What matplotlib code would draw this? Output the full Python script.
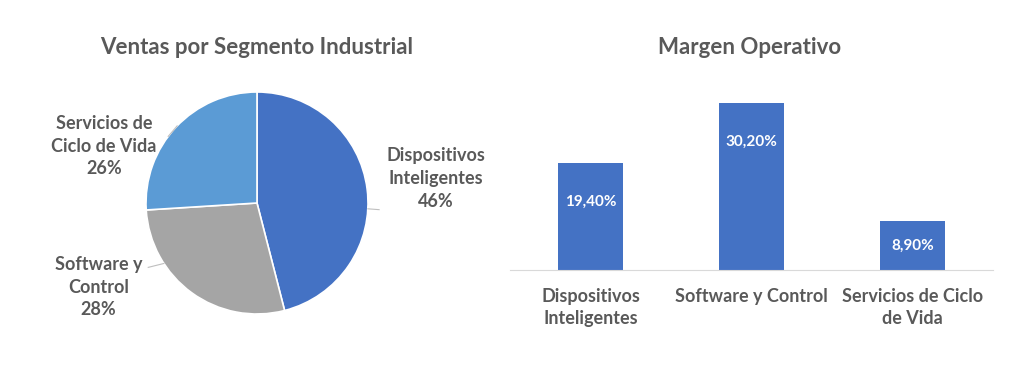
import matplotlib
matplotlib.use('Agg')
import matplotlib.pyplot as plt
import numpy as np

plt.rcParams['font.family'] = ['Lato', 'DejaVu Sans']

# data
segments = ['Dispositivos\nInteligentes', 'Software y\nControl', 'Servicios de\nCiclo de Vida']
sales_share = [46, 28, 26]
pie_colors = ['#4472C4', '#A5A5A5', '#5B9BD5']

bar_labels = ['Dispositivos\nInteligentes', 'Software y Control', 'Servicios de Ciclo\nde Vida']
margin = [19.40, 30.20, 8.90]

grey = '#595959'

fig = plt.figure(figsize=(10.24, 3.82), dpi=100)

# pie chart
ax1 = fig.add_axes([146 / 1024, 68 / 382, 222 / 1024, 222 / 382])
wedges, _ = ax1.pie(sales_share, colors=pie_colors, startangle=90, counterclock=False,
                    wedgeprops=dict(edgecolor='white', linewidth=1.2))
ax1.set_xlim(-1, 1)
ax1.set_ylim(-1, 1)
ax1.set_aspect('equal')

# label text positions (in pie units) and leader lines
label_pos = [(1.61, 0.22), (-1.43, -0.76), (-1.38, 0.51)]
line_start = [-3, 213, 136]
line_end = [(1.10, -0.06), (-0.98, -0.58), (-0.80, 0.60)]
for txt, pct, pos, a, end in zip(segments, sales_share, label_pos, line_start, line_end):
    start = (np.cos(np.deg2rad(a)), np.sin(np.deg2rad(a)))
    ax1.plot([start[0], end[0]], [start[1], end[1]], color='#BFBFBF', lw=0.8, clip_on=False)
    ax1.text(pos[0], pos[1], f'{txt}\n{pct}%', ha='center', va='center', fontsize=13,
             fontweight='bold', color=grey, linespacing=1.4)

fig.text(257 / 1024, 1 - 47 / 382, 'Ventas por Segmento Industrial', ha='center', va='center',
         fontsize=16, fontweight='bold', color=grey)

# bar chart
ax2 = fig.add_axes([510 / 1024, 112 / 382, 483 / 1024, 182 / 382])
x = np.arange(len(margin))
ax2.bar(x, margin, width=0.4, color='#4472C4')
ax2.set_xlim(-0.5, 2.5)
ax2.set_ylim(0, 33)
for xi, v in zip(x, margin):
    ypos = max(v - 7, v / 2)
    ax2.text(xi, ypos, f'{v:.2f}%'.replace('.', ','), ha='center', va='center',
             color='white', fontsize=11, fontweight='bold')
ax2.set_xticks(x)
ax2.set_xticklabels(bar_labels, fontsize=13, fontweight='bold', color=grey, linespacing=1.35, va='top')
ax2.tick_params(axis='x', length=0, pad=13)
ax2.set_yticks([])
for s in ['top', 'right', 'left']:
    ax2.spines[s].set_visible(False)
ax2.spines['bottom'].set_color('#D9D9D9')

fig.text(750 / 1024, 1 - 47 / 382, 'Margen Operativo', ha='center', va='center',
         fontsize=16, fontweight='bold', color=grey)

fig.savefig('out.png', dpi=100, facecolor='white')
